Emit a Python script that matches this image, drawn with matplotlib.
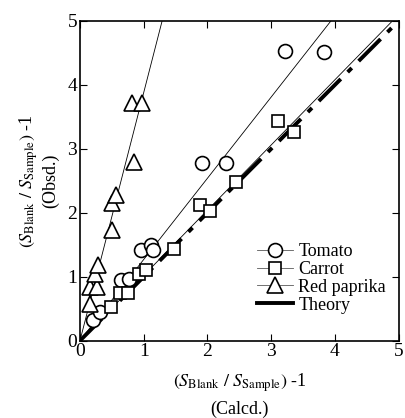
import numpy as np
import matplotlib
matplotlib.use('Agg')
import matplotlib.pyplot as plt

plt.rcParams['font.family'] = ['Liberation Serif', 'DejaVu Serif']
plt.rcParams['mathtext.fontset'] = 'stix'

# data
tomato_x = [0.21, 0.31, 0.64, 0.77, 0.95, 1.11, 1.14, 1.91, 2.29, 3.22, 3.83]
tomato_y = [0.32, 0.45, 0.95, 0.97, 1.42, 1.50, 1.42, 2.78, 2.78, 4.53, 4.52]
carrot_x = [0.49, 0.62, 0.76, 0.93, 1.03, 1.47, 1.88, 2.04, 2.45, 3.11, 3.36]
carrot_y = [0.52, 0.75, 0.75, 1.05, 1.10, 1.44, 2.12, 2.03, 2.48, 3.43, 3.27]
paprika_x = [0.15, 0.15, 0.26, 0.23, 0.28, 0.50, 0.50, 0.57, 0.85, 0.82, 0.98]
paprika_y = [0.58, 0.84, 0.84, 1.05, 1.18, 1.73, 2.15, 2.28, 2.79, 3.72, 3.72]

# fitted slopes (lines through origin)
slope_tomato = 1.27
slope_carrot = 1.02
slope_paprika = 3.88

fig = plt.figure(figsize=(4.06, 4.18), dpi=100)
ax = fig.add_axes([0.197, 0.185, 0.785, 0.765])

xx = np.array([0, 5])
ax.plot(xx, slope_tomato * xx, color='black', lw=0.6)
ax.plot(xx, slope_carrot * xx, color='black', lw=0.6)
ax.plot(xx, slope_paprika * xx, color='black', lw=0.6)
ax.plot(xx, xx, color='black', lw=2.8, dashes=(8, 2.5, 1.5, 2.5))

mk = dict(ls='none', mfc='white', mec='black', mew=1.2, ms=10)
ax.plot(tomato_x, tomato_y, marker='o', **mk)
ax.plot(carrot_x, carrot_y, marker='s', **dict(mk, ms=9))
ax.plot(paprika_x, paprika_y, marker='^', **dict(mk, ms=11))

# legend handles
h1, = ax.plot([], [], marker='o', color='0.35', lw=0.6, mfc='white', mec='black', mew=1.2, ms=10)
h2, = ax.plot([], [], marker='s', color='0.35', lw=0.6, mfc='white', mec='black', mew=1.2, ms=9)
h3, = ax.plot([], [], marker='^', color='0.35', lw=0.6, mfc='white', mec='black', mew=1.2, ms=11)
h4, = ax.plot([], [], color='black', lw=2.8)
ax.legend([h1, h2, h3, h4], ['Tomato', 'Carrot', 'Red paprika', 'Theory'],
          loc='lower right', bbox_to_anchor=(1.0, 0.045), frameon=False,
          fontsize=13, handlelength=2.0, handletextpad=0.3, labelspacing=0.05,
          borderaxespad=0.3)

ax.set_xlim(0, 5)
ax.set_ylim(0, 5)
ax.set_xticks([0, 1, 2, 3, 4, 5])
ax.set_yticks([0, 1, 2, 3, 4, 5])
ax.tick_params(direction='in', top=True, right=True, labelsize=14, length=5, width=0.8, pad=2)
for s in ax.spines.values():
    s.set_linewidth(1.2)

ax.set_xlabel(r'$(S_{\mathrm{Blank}}\ /\ S_{\mathrm{Sample}})$ -1' + '\n(Calcd.)',
              fontsize=13, linespacing=1.5, labelpad=8)
ax.set_ylabel(r'$(S_{\mathrm{Blank}}\ /\ S_{\mathrm{Sample}})$ -1' + '\n(Obsd.)',
              fontsize=13, linespacing=1.1, labelpad=6)

plt.savefig('out.png', dpi=100)
